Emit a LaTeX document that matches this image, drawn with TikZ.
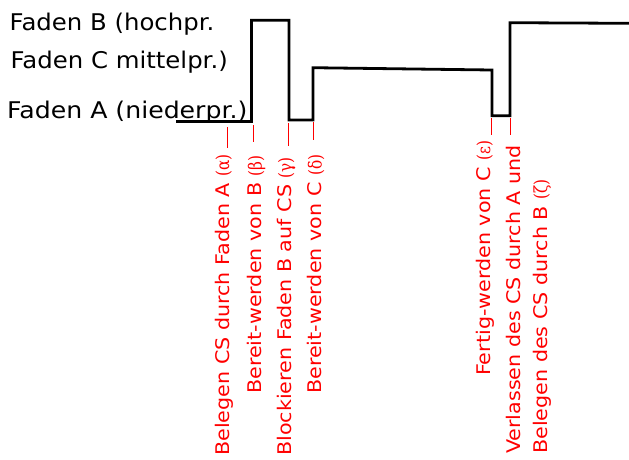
\documentclass[tikz,border=0pt]{standalone}
\usepackage{fontspec}
\setsansfont{DejaVu Sans}
\newfontfamily\lblfont[FakeStretch=1.06]{DejaVu Sans}
\newfontfamily\lblfontA[FakeStretch=1.095]{DejaVu Sans}
\newfontfamily\evfont[FakeStretch=1.10]{DejaVu Sans}
\newfontfamily\grkfont[FakeStretch=0.85]{DejaVu Serif}
\newcommand{\gk}[1]{{\grkfont\fontsize{18}{20}\selectfont(#1)}}
\begin{document}
\begin{tikzpicture}[x=1pt,y=-1pt,
  lbl/.style={font=\lblfont\fontsize{23}{27}\selectfont, inner sep=0pt, anchor=base west, text=black},
  ev/.style={font=\evfont\fontsize{18.8}{27}\selectfont, inner sep=0pt, rotate=90, anchor=base west, text=red},
  signal/.style={draw=black, line width=2.8pt, line join=miter},
  tick/.style={draw=red, line width=0.8pt}]
\useasboundingbox (0,0) rectangle (629,459);
% level labels
\node[lbl] (lB) at (9.5,30) {Faden B (hochpr.};
\node[lbl] (lC) at (10.5,68) {Faden C mittelpr.)};
\node[lbl, font=\lblfontA\fontsize{23}{27}\selectfont] (lA) at (7,118) {Faden A (niederpr.)};
% signal
\draw[signal] (176,121.5) -- (251.5,121.5) -- (251.5,20.3) -- (289,20.3) -- (289,120)
  -- (313,120) -- (313,67.7) -- (492,70) -- (492,115.7) -- (510,115.7) -- (510,22.7) -- (629,23.3);
% events
\node[ev] (ea) at (229,456) {Belegen CS durch Faden A \gk{α}};
\node[ev] (eb) at (261.5,394) {Bereit-werden von B \gk{β}};
\node[ev] (eg) at (291.5,456) {Blockieren Faden B auf CS \gk{γ}};
\node[ev] (ed) at (321.5,394) {Bereit-werden von C \gk{δ}};
\node[ev] (ee) at (490,376) {Fertig-werden von C \gk{ε}};
\node[ev] (ez1) at (520,454) {Verlassen des CS durch A und};
\node[ev] (ez2) at (547,454) {Belegen des CS durch B \gk{ζ}};
% ticks
\coordinate (ta1) at (227,127); \coordinate (ta2) at (227,148);
\coordinate (tb1) at (253,125); \coordinate (tb2) at (253,142);
\coordinate (tg1) at (288.5,123); \coordinate (tg2) at (288.5,146);
\coordinate (td1) at (313.5,122); \coordinate (td2) at (313.5,140);
\coordinate (te1) at (491,118); \coordinate (te2) at (491,135);
\coordinate (tz1) at (510,118); \coordinate (tz2) at (510,135);
\draw[tick] (ta1) -- (ta2);
\draw[tick] (tb1) -- (tb2);
\draw[tick] (tg1) -- (tg2);
\draw[tick] (td1) -- (td2);
\draw[tick] (te1) -- (te2);
\draw[tick] (tz1) -- (tz2);
\end{tikzpicture}
\end{document}
